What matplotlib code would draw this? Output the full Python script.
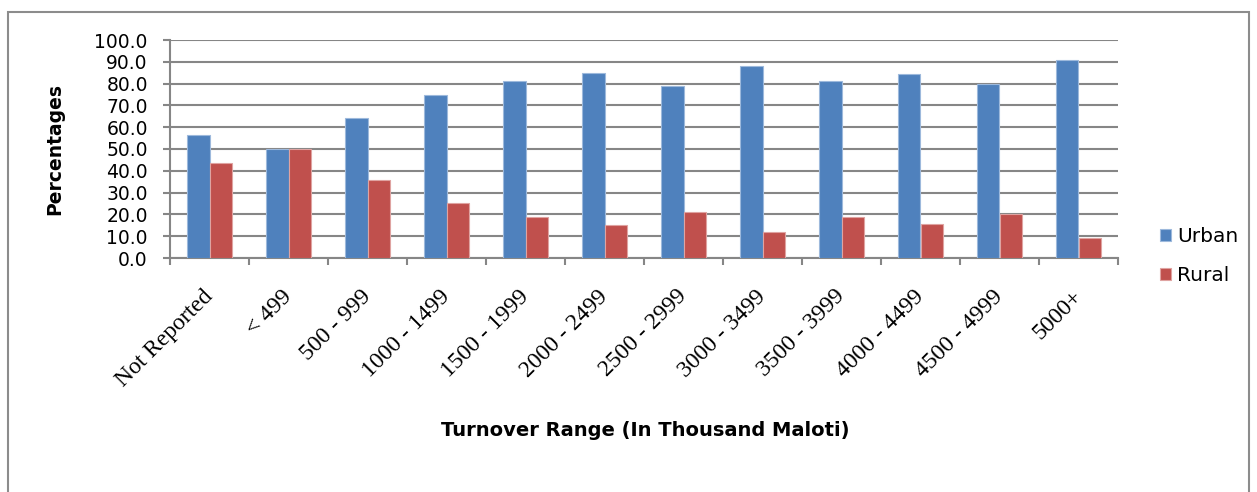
import matplotlib.pyplot as plt
import matplotlib.patches as patches
import matplotlib.transforms as mtransforms
import numpy as np

categories = ['Not Reported', '< 499', '500 - 999', '1000 - 1499', '1500 - 1999',
              '2000 - 2499', '2500 - 2999', '3000 - 3499', '3500 - 3999',
              '4000 - 4499', '4500 - 4999', '5000+']
urban = [56.4, 50.0, 64.0, 74.6, 81.0, 84.8, 79.0, 88.3, 81.0, 84.5, 79.6, 90.8]
rural = [43.6, 50.0, 36.0, 25.4, 19.0, 15.2, 21.0, 11.7, 19.0, 15.5, 20.4, 9.2]

grid_col = '#868686'

fig = plt.figure(figsize=(12.57, 4.92), dpi=100)
ax = fig.add_axes([170 / 1257, 1 - 258 / 492, (1118 - 170) / 1257, (258 - 40) / 492])

x = np.arange(len(categories))
w = 0.28
ax.bar(x - w / 2, urban, w, color='#4F81BD', edgecolor='#9DB9DC', linewidth=0.8, label='Urban', zorder=3)
ax.bar(x + w / 2, rural, w, color='#C0504D', edgecolor='#DFA3A1', linewidth=0.8, label='Rural', zorder=3)

ax.set_xlim(-0.5, 11.5)
ax.set_ylim(0, 100)
ax.set_yticks(np.arange(0, 101, 10))
ax.set_yticklabels([f'{v:.1f}' for v in np.arange(0, 101, 10)], fontsize=13.5)
ax.yaxis.grid(True, color=grid_col, linewidth=1.5, zorder=0)
ax.set_axisbelow(True)

ax.set_xticks(x)
ax.set_xticklabels(categories, rotation=45, ha='right', rotation_mode='anchor',
                   fontsize=17, family='Liberation Serif')
ax.set_xticks(np.arange(-0.5, 12, 1), minor=True)
ax.tick_params(axis='x', which='major', length=0, pad=20)
ax.tick_params(axis='x', which='minor', length=5, color=grid_col, width=1.5)
ax.tick_params(axis='y', length=5, color=grid_col, width=1.5, pad=11)

# nudge the slanted labels a little to the left
shift = mtransforms.ScaledTranslation(-7 / 100, 0, fig.dpi_scale_trans)
for lbl in ax.get_xticklabels():
    lbl.set_transform(lbl.get_transform() + shift)

for s in ['top', 'right']:
    ax.spines[s].set_visible(False)
for s in ['left', 'bottom']:
    ax.spines[s].set_color(grid_col)
    ax.spines[s].set_linewidth(1.5)

ax.set_ylabel('Percentages', fontsize=13.5, fontweight='bold', labelpad=22)
fig.text(0.513, 0.125, 'Turnover Range (In Thousand Maloti)', fontsize=14,
         fontweight='bold', ha='center', va='center')

ax.legend(loc='center left', bbox_to_anchor=(1.025, 0.01), frameon=False, fontsize=14.5,
          handlelength=0.55, handleheight=0.55, handletextpad=0.3, labelspacing=1.0)

fig.patches.append(patches.Rectangle((8 / 1257, -0.1), (1249 - 8) / 1257, 1.1 - 12 / 492,
                                     transform=fig.transFigure, fill=False,
                                     edgecolor='#8c8c8c', linewidth=1.5))

fig.savefig('out.png', dpi=100)
